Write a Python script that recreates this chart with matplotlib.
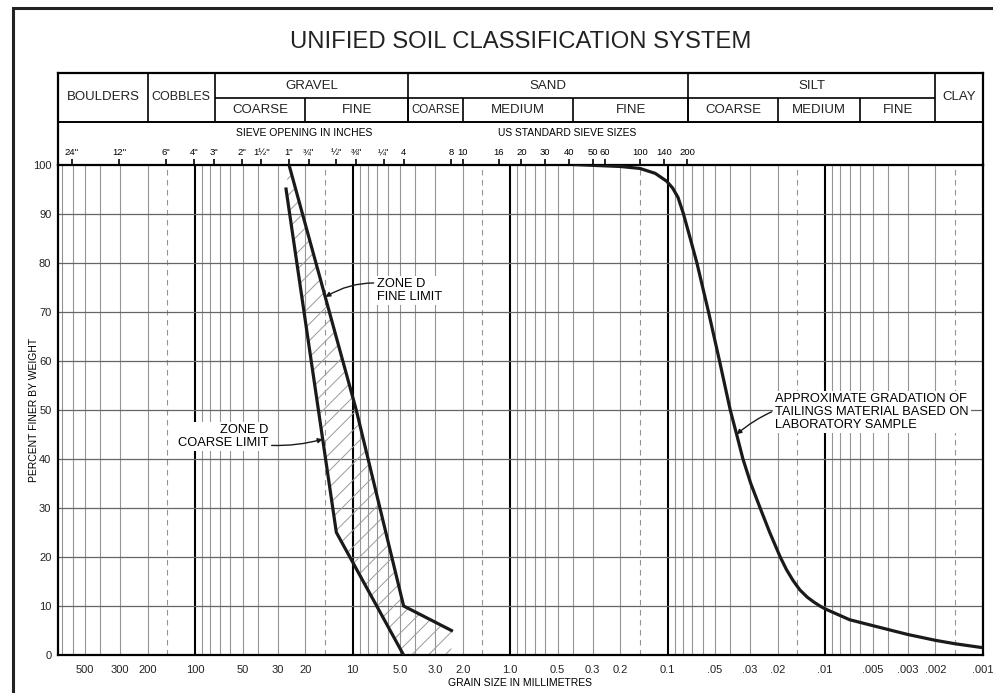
import matplotlib.pyplot as plt
from matplotlib.patches import Polygon, Rectangle
from matplotlib.ticker import NullLocator

plt.rcParams['font.family'] = ['Liberation Sans', 'DejaVu Sans']
plt.rcParams['hatch.linewidth'] = 0.7

# zone D limits (grain size mm, percent finer)
fine_mm = [25.4, 9.5, 4.75, 2.36]
fine_pct = [100, 50, 10, 5]
coarse_mm = [26.5, 12.7, 4.75]
coarse_pct = [95, 25, 0]

# tailings gradation
tail_mm = [0.4, 0.2, 0.15, 0.12, 0.1015, 0.093, 0.086, 0.0795, 0.072, 0.0653, 0.0551,
           0.0469, 0.0401, 0.0365, 0.0333, 0.0297, 0.0259, 0.0225, 0.0193, 0.0176,
           0.016, 0.0145, 0.013, 0.0118, 0.0108, 0.01, 0.007, 0.005, 0.003, 0.002,
           0.0015, 0.001]
tail_pct = [100, 99.6, 99.2, 98.2, 96.6, 95.2, 93.3, 90, 85, 80, 70,
            60, 50, 45, 40, 35, 30, 25, 20, 17.4,
            15.2, 13.3, 11.8, 10.8, 10.0, 9.4, 7.2, 6.0, 4.2, 3.0,
            2.3, 1.5]

# axis labels
bottom_vals = [500, 300, 200, 100, 50, 30, 20, 10, 5, 3, 2, 1, 0.5, 0.3, 0.2, 0.1,
               0.05, 0.03, 0.02, 0.01, 0.005, 0.003, 0.002, 0.001]
bottom_lbls = ['500', '300', '200', '100', '50', '30', '20', '10', '5.0', '3.0', '2.0',
               '1.0', '0.5', '0.3', '0.2', '0.1', '.05', '.03', '.02', '.01', '.005',
               '.003', '.002', '.001']
sieve_mm = [609.6, 304.8, 152.4, 101.6, 76.2, 50.8, 38.1, 25.4, 19.05, 12.7, 9.525, 6.35,
            4.75, 2.36, 2.0, 1.18, 0.85, 0.6, 0.425, 0.3, 0.25, 0.15, 0.106, 0.075]
sieve_lbl = ['24"', '12"', '6"', '4"', '3"', '2"', '1½"', '1"', '¾"', '½"', '⅜"', '¼"',
             '4', '8', '10', '16', '20', '30', '40', '50', '60', '100', '140', '200']

# classification header
main_names = ['BOULDERS', 'COBBLES', 'GRAVEL', 'SAND', 'SILT', 'CLAY']
main_bounds = [740, 200, 75, 4.45, 0.074, 0.002, 0.001]
sub_names = ['COARSE', 'FINE', 'COARSE', 'MEDIUM', 'FINE', 'COARSE', 'MEDIUM', 'FINE']
sub_bounds = [(75, 20), (20, 4.45), (4.45, 2.0), (2.0, 0.4), (0.4, 0.074),
              (0.074, 0.02), (0.02, 0.006), (0.006, 0.002)]

XMAX, XMIN = 740, 0.001

fig = plt.figure(figsize=(9.93, 6.93), dpi=100)
ax = fig.add_axes([0.0587, 0.0548, 0.9309, 0.7078])
ax.set_xscale('log')
ax.set_xlim(XMAX, XMIN)
ax.set_ylim(0, 100)

# log grid
for dec in range(-3, 3):
    for m in range(1, 10):
        v = m * 10.0 ** dec
        if v <= XMIN or v >= XMAX:
            continue
        if m == 1:
            ax.axvline(v, color='black', lw=1.5, zorder=1)
        else:
            ax.axvline(v, color='#959595', lw=0.8, zorder=1)
    ax.axvline(1.5 * 10.0 ** dec, color='#959595', lw=0.8, ls=(0, (5, 4)), zorder=1)
for p in range(10, 100, 10):
    ax.axhline(p, color='#666666', lw=0.9, zorder=1)

# hatched zone D
zone = list(zip(fine_mm, fine_pct)) + [(fine_mm[-1], 0)] + list(zip(coarse_mm[::-1], coarse_pct[::-1]))
ax.add_patch(Polygon(zone, closed=True, facecolor='none', edgecolor='#9a9a9a',
                     hatch='//', lw=0, zorder=2))
ax.plot(fine_mm, fine_pct, color='#1a1a1a', lw=2.3, zorder=3)
ax.plot(coarse_mm, coarse_pct, color='#1a1a1a', lw=2.3, zorder=3)
ax.plot(tail_mm, tail_pct, color='#1a1a1a', lw=2.3, zorder=3, solid_capstyle='butt')

bbox = dict(facecolor='white', edgecolor='none', pad=1.5)
arrow = dict(arrowstyle='-|>', color='#1a1a1a', lw=1.0, mutation_scale=7,
             connectionstyle='arc3,rad=0.25', shrinkA=1, shrinkB=0)
ax.annotate('ZONE D\nFINE LIMIT', xy=(14.9, 73), xytext=(7.0, 74.3), fontsize=9.3,
            ha='left', va='center', linespacing=1.1, bbox=bbox, arrowprops=arrow, zorder=4)
ax.annotate('ZONE D\nCOARSE LIMIT', xy=(15.5, 44), xytext=(34.4, 44.5), fontsize=9.3,
            ha='right', va='center', multialignment='right', linespacing=1.1, bbox=bbox,
            arrowprops=dict(arrow, connectionstyle='arc3,rad=0.15'), zorder=4)
ax.annotate('APPROXIMATE GRADATION OF\nTAILINGS MATERIAL BASED ON\nLABORATORY SAMPLE',
            xy=(0.0365, 45), xytext=(0.0208, 49.5), fontsize=9.3, ha='left', va='center',
            linespacing=1.1, bbox=bbox, arrowprops=dict(arrow, connectionstyle='arc3,rad=0.3'),
            zorder=4)

ax.set_xticks(bottom_vals, bottom_lbls)
ax.xaxis.set_minor_locator(NullLocator())
ax.set_yticks(range(0, 101, 10))
ax.tick_params(axis='both', length=0, labelsize=8, colors='#222222')
ax.tick_params(axis='x', pad=7)
ax.tick_params(axis='y', pad=5)
for s in ax.spines.values():
    s.set_linewidth(1.6)
ax.set_xlabel('GRAIN SIZE IN MILLIMETRES', fontsize=7.5, va='top')
ax.xaxis.set_label_coords(0.5, -0.047)
ax.set_ylabel('PERCENT FINER BY WEIGHT', fontsize=7.5)
ax.yaxis.set_label_coords(-0.021, 0.5)

# sieve sizes on top
top = ax.twiny()
top.set_xscale('log')
top.set_xlim(XMAX, XMIN)
top.set_xticks(sieve_mm, sieve_lbl)
top.xaxis.set_minor_locator(NullLocator())
top.tick_params(axis='x', length=4, width=1.2, labelsize=6.8, pad=1.5)
for s in top.spines.values():
    s.set_visible(False)

# header table
hdr = fig.add_axes([0.0587, 0.7626, 0.9309, 0.1321])
hdr.set_xscale('log')
hdr.set_xlim(XMAX, XMIN)
hdr.set_ylim(0, 1)
hdr.patch.set_visible(False)
hdr.set_xticks([])
hdr.set_yticks([])
hdr.xaxis.set_minor_locator(NullLocator())
for side in ['left', 'right', 'top']:
    hdr.spines[side].set_linewidth(1.6)
hdr.spines['bottom'].set_visible(False)
y_low, y_mid = 0.4645, 0.7268
hdr.axhline(y_low, color='black', lw=1.4)
hdr.hlines(y_mid, 75, 0.002, color='black', lw=1.2)
hdr.vlines(main_bounds[1:-1], y_low, 1, color='black', lw=1.2)
hdr.vlines([b[1] for b in sub_bounds[:-1]], y_low, y_mid, color='black', lw=1.2)
for name, a, b in zip(main_names, main_bounds[:-1], main_bounds[1:]):
    xc = (a * b) ** 0.5
    yc = 0.858 if name in ('GRAVEL', 'SAND', 'SILT') else (y_low + 1) / 2
    fs = 9 if name == 'COBBLES' else 9.5
    hdr.text(xc, yc, name, ha='center', va='center', fontsize=fs, color='#222222')
for name, (a, b) in zip(sub_names, sub_bounds):
    fs = 8.3 if (a, b) == (4.45, 2.0) else 9.5
    hdr.text((a * b) ** 0.5, 0.596, name, ha='center', va='center', fontsize=fs, color='#222222')
hdr.text(55, 0.345, 'SIEVE OPENING IN INCHES', ha='left', va='center', fontsize=7.5)
hdr.text(1.2, 0.345, 'US STANDARD SIEVE SIZES', ha='left', va='center', fontsize=7.4)

fig.text(0.5242, 1 - 42 / 693, 'UNIFIED SOIL CLASSIFICATION SYSTEM', ha='center',
         va='center', fontsize=17.2, color='#222222')
fig.add_artist(Rectangle((13 / 993, -0.05), 1.1, 1 - 8 / 693 + 0.05, transform=fig.transFigure,
                         fill=False, lw=2.2, edgecolor='#222222'))

fig.savefig('out.png', dpi=100)
